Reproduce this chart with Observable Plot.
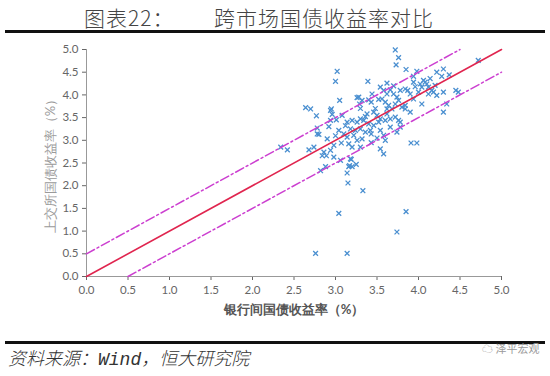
<!DOCTYPE html>
<html><head><meta charset="utf-8">
<script src="https://cdn.jsdelivr.net/npm/d3@7"></script>
<script src="https://cdn.jsdelivr.net/npm/@observablehq/plot@0.6"></script>
<style>
html,body{margin:0;padding:0;background:#fff;}
#wrap{position:relative;width:550px;height:376px;overflow:hidden;font-family:"Noto Sans CJK SC",sans-serif;}
.t{position:absolute;top:2px;font-size:21px;font-weight:300;color:#444;white-space:nowrap;letter-spacing:1px;}
.rule{position:absolute;left:5px;width:540px;height:3px;background:#111;}
#cap{position:absolute;left:8px;top:344px;font-size:18px;font-weight:300;font-style:italic;color:#333;white-space:nowrap;}
#cap .w{font-family:"Liberation Mono",monospace;font-weight:normal;}
#wm{position:absolute;left:482px;top:340px;font-size:11px;color:#999;}
#chart{position:absolute;left:0;top:36px;}
#chart svg{color:#666;}
#chart g[aria-label="y-axis label"]{fill:#9a9a9a;font-size:13px;}
#chart g[aria-label="x-axis label"]{fill:#555;font-weight:bold;font-size:13px;}
#chart g[aria-label="x-axis tick label"], #chart g[aria-label="y-axis tick label"]{font-size:11.5px;}
</style></head>
<body><div id="wrap">
<div class="t" style="left:84px">图表22：</div>
<div class="t" style="left:214px">跨市场国债收益率对比</div>
<div class="rule" style="top:30px"></div>
<div id="chart"></div>
<div class="rule" style="top:341px"></div>
<div id="cap">资料来源：<span class="w">Wind</span>，恒大研究院</div>
<div id="wm">☁ 泽平宏观</div>
</div>
<script>
// Interbank yield (x) and exchange yield (y), %
const interbank = [3.72,3.76,3.73,3.85,3.98,3.94,4.30,4.22,4.28,4.37,3.62,3.94,4.06,4.10,4.04,4.20,4.30,4.45,4.48,4.18,4.04,4.34,4.30,3.87,3.02,3.00,3.39,3.05,2.64,2.70,2.95,3.28,3.32,3.29,3.43,3.54,3.58,3.62,3.66,3.70,3.74,3.78,3.84,3.90,3.56,3.60,3.64,3.68,3.62,3.72,3.76,3.80,3.84,3.46,3.50,3.54,3.52,3.60,3.66,3.72,3.78,3.14,3.20,3.26,3.30,3.34,3.40,3.46,3.18,3.24,3.30,3.36,3.42,3.04,3.10,3.14,3.22,3.26,3.32,3.16,3.20,3.30,4.02,4.08,4.12,4.16,4.12,4.22,3.94,3.84,3.76,3.78,3.74,3.66,3.54,3.58,3.60,3.54,3.58,3.91,3.98,3.43,3.43,2.77,2.94,2.96,2.94,3.01,2.78,2.80,2.90,2.86,2.89,2.94,2.98,3.06,3.18,3.20,3.16,2.82,2.88,2.84,2.98,3.07,2.68,2.74,2.42,2.34,2.78,3.17,3.25,3.19,3.14,3.15,3.33,3.04,3.85,3.74,2.76,3.14,4.72,3.48,3.38,3.90,4.00,3.70,3.44,3.40,3.26,3.30,3.08,3.12,3.52,3.96,4.14,3.36,3.00,3.50,2.92,3.62];
const exchange = [4.99,4.82,4.66,4.56,4.52,4.41,4.57,4.50,4.41,4.44,4.26,4.28,4.32,4.24,4.17,4.21,4.06,4.10,4.06,4.06,3.80,3.80,3.62,4.10,4.52,4.30,4.30,3.88,3.72,3.69,3.69,3.95,3.88,3.80,3.84,4.17,4.10,4.02,4.11,4.02,3.95,4.10,4.13,4.02,3.91,3.84,3.77,3.69,3.69,3.80,3.88,3.73,3.69,3.62,3.55,3.47,3.40,3.44,3.47,3.51,3.40,3.40,3.44,3.40,3.47,3.44,3.36,3.33,3.25,3.22,3.25,3.18,3.22,3.22,3.14,3.07,3.11,3.00,3.03,2.92,2.85,2.85,4.24,4.28,4.17,4.10,4.02,3.99,3.91,3.77,3.44,3.29,3.18,3.29,3.22,3.11,3.00,2.81,2.70,2.94,2.94,2.95,3.14,3.54,3.66,3.57,3.44,3.45,3.27,3.13,3.03,2.74,2.66,2.78,2.63,2.56,2.59,2.42,2.42,2.33,2.42,2.66,2.89,2.94,2.79,2.85,2.79,2.85,3.14,2.44,2.47,2.58,2.28,2.06,1.89,1.39,1.43,0.98,0.51,0.51,4.76,3.70,3.58,3.62,4.06,4.20,4.02,3.89,3.94,3.70,3.55,3.32,3.90,4.18,4.36,3.52,3.10,3.05,3.30,3.58];
const lineEnds = [0, 5];      // extent of the 45° reference line
const bandOffsets = [0.5, -0.5]; // ±0.5% bands
const axisTicks = [0,0.5,1,1.5,2,2.5,3,3.5,4,4.5,5];

const pts = interbank.map((x,i)=>({x, y: exchange[i]}));
const diag = lineEnds.map(v=>({x:v, y:v}));
const bands = bandOffsets.map(o => {
  const lo = Math.max(lineEnds[0], lineEnds[0]-o), hi = Math.min(lineEnds[1], lineEnds[1]-o);
  return [{x:lo, y:lo+o, k:o},{x:hi, y:hi+o, k:o}];
}).flat();

const chart = Plot.plot({
  width: 550, height: 292,
  marginLeft: 86, marginRight: 49, marginTop: 13, marginBottom: 52,
  x: {domain:[0,5]}, y: {domain:[0,5]},
  style: {fontFamily:"Lato, 'Open Sans', sans-serif", fontSize:"11px", background:"transparent"},
  marks: [
    Plot.axisX({ticks: axisTicks, tickFormat: d3.format(".1f"), tickSize: 4, tickPadding: 5,
      label: "银行间国债收益率（%）", labelAnchor: "center", labelArrow: "none", labelOffset: 37}),
    Plot.axisY({ticks: axisTicks, tickFormat: d3.format(".1f"), tickSize: 4, tickPadding: 4,
      label: "上交所国债收益率（%）", labelAnchor: "center", labelArrow: "none", labelOffset: 41}),
    Plot.ruleY([0], {stroke:"#999"}),
    Plot.ruleX([0], {stroke:"#999"}),
    Plot.dot(pts, {x:"x", y:"y", symbol:"times", r:2.3, stroke:"#4a8fd0", strokeWidth:1.3}),
    Plot.line(diag, {x:"x", y:"y", stroke:"#e0254f", strokeWidth:1.6}),
    Plot.line(bands, {x:"x", y:"y", z:"k", stroke:"#cc3fd0", strokeWidth:1.5, strokeDasharray:"9,3,2,3"})
  ]
});
document.getElementById("chart").appendChild(chart);
</script>
</body></html>
